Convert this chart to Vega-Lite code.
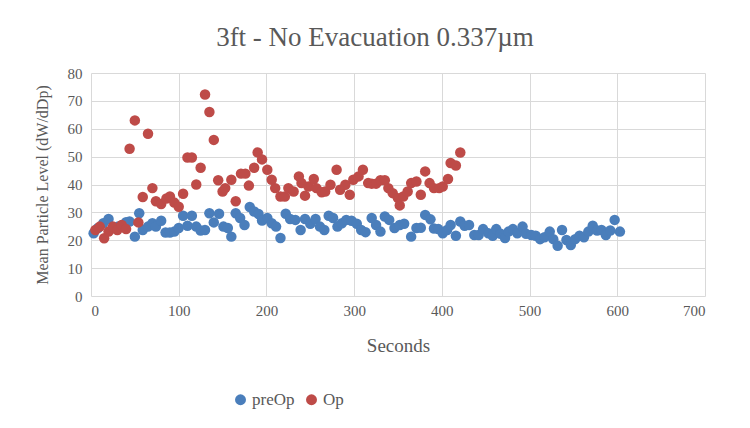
{
  "$schema": "https://vega.github.io/schema/vega-lite/v6.json",
  "width": 614,
  "height": 223,
  "autosize": {"type": "none"},
  "padding": {"left": 91, "top": 73, "right": 45, "bottom": 132},
  "background": "white",
  "title": {
    "text": "3ft - No Evacuation 0.337µm",
    "font": "Liberation Serif",
    "fontSize": 27,
    "fontWeight": "normal",
    "color": "#595959",
    "anchor": "middle",
    "dx": -23,
    "offset": 14
  },
  "config": {
    "view": {"stroke": null},
    "axis": {
      "labelFont": "Liberation Serif",
      "titleFont": "Liberation Serif",
      "labelColor": "#595959",
      "titleColor": "#595959",
      "labelFontSize": 15,
      "titleFontWeight": "normal",
      "gridColor": "#D9D9D9",
      "gridWidth": 1,
      "ticks": false,
      "domain": false
    },
    "legend": {
      "labelFont": "Liberation Serif",
      "labelFontSize": 17,
      "labelColor": "#595959"
    }
  },
  "data": {
    "values": [
      {"series":"preOp","t":3,"v":22.5},{"series":"preOp","t":8,"v":24.4},{"series":"preOp","t":14,"v":26.1},{"series":"preOp","t":20,"v":27.6},{"series":"preOp","t":25,"v":24.4},{"series":"preOp","t":31,"v":24.9},{"series":"preOp","t":36,"v":25.5},{"series":"preOp","t":40,"v":26.5},{"series":"preOp","t":44,"v":26.7},{"series":"preOp","t":50,"v":21.3},{"series":"preOp","t":55,"v":29.7},{"series":"preOp","t":59,"v":23.7},{"series":"preOp","t":65,"v":24.9},{"series":"preOp","t":70,"v":26.1},{"series":"preOp","t":74,"v":24.9},{"series":"preOp","t":80,"v":27},{"series":"preOp","t":85,"v":22.8},{"series":"preOp","t":90,"v":22.8},{"series":"preOp","t":95,"v":23.1},{"series":"preOp","t":100,"v":24.4},{"series":"preOp","t":105,"v":28.8},{"series":"preOp","t":110,"v":25.2},{"series":"preOp","t":115,"v":28.8},{"series":"preOp","t":120,"v":24.9},{"series":"preOp","t":125,"v":23.5},{"series":"preOp","t":130,"v":23.7},{"series":"preOp","t":135,"v":29.7},{"series":"preOp","t":140,"v":26.4},{"series":"preOp","t":146,"v":29.5},{"series":"preOp","t":151,"v":24.9},{"series":"preOp","t":156,"v":24.4},{"series":"preOp","t":160,"v":21.3},{"series":"preOp","t":165,"v":29.7},{"series":"preOp","t":170,"v":28},{"series":"preOp","t":175,"v":25.5},{"series":"preOp","t":181,"v":31.9},{"series":"preOp","t":186,"v":30.3},{"series":"preOp","t":191,"v":29.4},{"series":"preOp","t":195,"v":27.1},{"series":"preOp","t":201,"v":28},{"series":"preOp","t":206,"v":26.1},{"series":"preOp","t":211,"v":24.9},{"series":"preOp","t":216,"v":20.8},{"series":"preOp","t":222,"v":29.5},{"series":"preOp","t":227,"v":27.6},{"series":"preOp","t":233,"v":27.3},{"series":"preOp","t":239,"v":23.7},{"series":"preOp","t":244,"v":27.6},{"series":"preOp","t":250,"v":25.9},{"series":"preOp","t":256,"v":27.6},{"series":"preOp","t":261,"v":24.9},{"series":"preOp","t":266,"v":23.7},{"series":"preOp","t":271,"v":28.8},{"series":"preOp","t":276,"v":28},{"series":"preOp","t":281,"v":24.9},{"series":"preOp","t":286,"v":26.1},{"series":"preOp","t":291,"v":27.3},{"series":"preOp","t":297,"v":27},{"series":"preOp","t":303,"v":25.9},{"series":"preOp","t":308,"v":23.7},{"series":"preOp","t":313,"v":22.9},{"series":"preOp","t":320,"v":28},{"series":"preOp","t":325,"v":25.5},{"series":"preOp","t":330,"v":23.1},{"series":"preOp","t":335,"v":28.5},{"series":"preOp","t":340,"v":27.3},{"series":"preOp","t":346,"v":24.4},{"series":"preOp","t":352,"v":25.5},{"series":"preOp","t":357,"v":25.9},{"series":"preOp","t":365,"v":21.3},{"series":"preOp","t":371,"v":24.4},{"series":"preOp","t":376,"v":24.5},{"series":"preOp","t":381,"v":29.1},{"series":"preOp","t":387,"v":27.5},{"series":"preOp","t":391,"v":24.2},{"series":"preOp","t":396,"v":24},{"series":"preOp","t":401,"v":22.5},{"series":"preOp","t":406,"v":23.7},{"series":"preOp","t":410,"v":25.5},{"series":"preOp","t":416,"v":21.6},{"series":"preOp","t":421,"v":26.7},{"series":"preOp","t":426,"v":25.2},{"series":"preOp","t":431,"v":25.5},{"series":"preOp","t":437,"v":21.9},{"series":"preOp","t":442,"v":21.9},{"series":"preOp","t":447,"v":24},{"series":"preOp","t":453,"v":22.5},{"series":"preOp","t":458,"v":21.6},{"series":"preOp","t":462,"v":24},{"series":"preOp","t":467,"v":22.3},{"series":"preOp","t":472,"v":20.8},{"series":"preOp","t":476,"v":23.1},{"series":"preOp","t":481,"v":24},{"series":"preOp","t":486,"v":22.5},{"series":"preOp","t":492,"v":24.9},{"series":"preOp","t":496,"v":22.3},{"series":"preOp","t":502,"v":21.9},{"series":"preOp","t":507,"v":21.6},{"series":"preOp","t":512,"v":20.4},{"series":"preOp","t":517,"v":21.1},{"series":"preOp","t":523,"v":23.1},{"series":"preOp","t":527,"v":20.4},{"series":"preOp","t":532,"v":18},{"series":"preOp","t":537,"v":23.7},{"series":"preOp","t":542,"v":20.1},{"series":"preOp","t":547,"v":18.3},{"series":"preOp","t":552,"v":20.4},{"series":"preOp","t":557,"v":21.6},{"series":"preOp","t":562,"v":21.1},{"series":"preOp","t":567,"v":23.1},{"series":"preOp","t":572,"v":25.2},{"series":"preOp","t":577,"v":23.5},{"series":"preOp","t":582,"v":23.7},{"series":"preOp","t":587,"v":21.9},{"series":"preOp","t":592,"v":23.5},{"series":"preOp","t":597,"v":27.3},{"series":"preOp","t":603,"v":23.1},
      {"series":"Op","t":5,"v":23.7},{"series":"Op","t":10,"v":24.9},{"series":"Op","t":15,"v":20.7},{"series":"Op","t":20,"v":23.1},{"series":"Op","t":25,"v":24.9},{"series":"Op","t":30,"v":23.7},{"series":"Op","t":35,"v":25.5},{"series":"Op","t":40,"v":24},{"series":"Op","t":44,"v":52.8},{"series":"Op","t":50,"v":63},{"series":"Op","t":54,"v":26.4},{"series":"Op","t":59,"v":35.5},{"series":"Op","t":65,"v":58.2},{"series":"Op","t":70,"v":38.7},{"series":"Op","t":74,"v":34},{"series":"Op","t":80,"v":33},{"series":"Op","t":86,"v":35},{"series":"Op","t":90,"v":35.7},{"series":"Op","t":95,"v":33.5},{"series":"Op","t":100,"v":32},{"series":"Op","t":105,"v":36.7},{"series":"Op","t":110,"v":49.7},{"series":"Op","t":115,"v":49.7},{"series":"Op","t":120,"v":40},{"series":"Op","t":125,"v":46},{"series":"Op","t":130,"v":72.3},{"series":"Op","t":135,"v":66},{"series":"Op","t":140,"v":56},{"series":"Op","t":145,"v":41.5},{"series":"Op","t":150,"v":37.5},{"series":"Op","t":153,"v":38.7},{"series":"Op","t":160,"v":41.7},{"series":"Op","t":165,"v":34},{"series":"Op","t":171,"v":43.9},{"series":"Op","t":176,"v":43.9},{"series":"Op","t":180,"v":39.6},{"series":"Op","t":186,"v":46},{"series":"Op","t":190,"v":51.5},{"series":"Op","t":195,"v":49},{"series":"Op","t":201,"v":45.3},{"series":"Op","t":206,"v":41.7},{"series":"Op","t":210,"v":38.7},{"series":"Op","t":216,"v":35.7},{"series":"Op","t":221,"v":35.7},{"series":"Op","t":225,"v":38.7},{"series":"Op","t":231,"v":37.5},{"series":"Op","t":237,"v":42.9},{"series":"Op","t":240,"v":40.5},{"series":"Op","t":244,"v":36},{"series":"Op","t":248,"v":39.3},{"series":"Op","t":254,"v":42},{"series":"Op","t":257,"v":38.7},{"series":"Op","t":263,"v":37.2},{"series":"Op","t":267,"v":37.5},{"series":"Op","t":273,"v":39.9},{"series":"Op","t":280,"v":45.3},{"series":"Op","t":284,"v":38.1},{"series":"Op","t":290,"v":39.9},{"series":"Op","t":295,"v":36.3},{"series":"Op","t":299,"v":41.7},{"series":"Op","t":305,"v":42.9},{"series":"Op","t":310,"v":45.3},{"series":"Op","t":316,"v":40.5},{"series":"Op","t":320,"v":40.3},{"series":"Op","t":325,"v":40.3},{"series":"Op","t":330,"v":41.5},{"series":"Op","t":335,"v":41.5},{"series":"Op","t":339,"v":38.7},{"series":"Op","t":344,"v":36.9},{"series":"Op","t":350,"v":35.1},{"series":"Op","t":352,"v":32.5},{"series":"Op","t":356,"v":35.7},{"series":"Op","t":361,"v":37.5},{"series":"Op","t":365,"v":40.5},{"series":"Op","t":371,"v":41.1},{"series":"Op","t":376,"v":36.3},{"series":"Op","t":381,"v":44.7},{"series":"Op","t":386,"v":40.5},{"series":"Op","t":391,"v":38.7},{"series":"Op","t":397,"v":38.7},{"series":"Op","t":401,"v":39.3},{"series":"Op","t":407,"v":42},{"series":"Op","t":410,"v":47.7},{"series":"Op","t":416,"v":46.8},{"series":"Op","t":421,"v":51.5}
    ]
  },
  "mark": {"type": "circle", "size": 110, "opacity": 1},
  "encoding": {
    "x": {
      "field": "t",
      "type": "quantitative",
      "scale": {"domain": [0, 700], "nice": false},
      "axis": {"values": [0,100,200,300,400,500,600,700], "title": "Seconds", "titleFontSize": 19, "labelPadding": 7, "titlePadding": 18}
    },
    "y": {
      "field": "v",
      "type": "quantitative",
      "scale": {"domain": [0, 80], "nice": false},
      "axis": {"values": [0,10,20,30,40,50,60,70,80], "title": "Mean Particle Level (dW/dDp)", "titleFontSize": 16, "labelPadding": 9, "titlePadding": 17}
    },
    "color": {
      "field": "series",
      "type": "nominal",
      "scale": {"domain": ["preOp", "Op"], "range": ["#4A7EBB", "#BE4B48"]},
      "legend": {
        "title": null,
        "orient": "none",
        "direction": "horizontal",
        "legendX": 141,
        "legendY": 318,
        "symbolType": "circle",
        "symbolSize": 120,
        "columnPadding": 8,
        "labelOffset": 3
      }
    },
    "order": {"field": "series", "sort": "descending"}
  }
}
